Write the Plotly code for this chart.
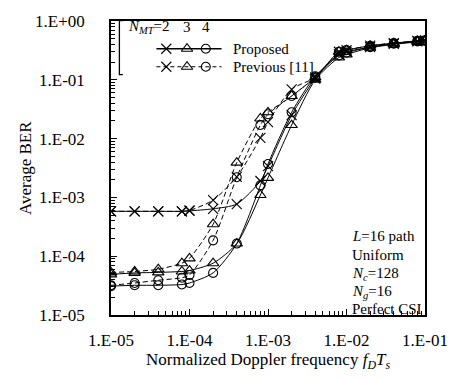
import plotly.graph_objects as go

# ---------------- data ----------------
fd = [1e-5, 2e-5, 4e-5, 8e-5, 1e-4, 2e-4, 4e-4, 8e-4, 1e-3, 2e-3, 4e-3,
      8e-3, 1e-2, 2e-2, 4e-2, 8e-2, 1e-1]

prop_n2 = [5.8e-4, 5.8e-4, 5.8e-4, 5.8e-4, 5.9e-4, 6.4e-4, 7.7e-4, 1.9e-3, 3.4e-3,
           2.5e-2, 0.105, 0.27, 0.30, 0.36, 0.41, 0.45, 0.46]
prop_n3 = [4.9e-5, 5.2e-5, 5.3e-5, 5.5e-5, 5.7e-5, 7.6e-5, 1.64e-4, 1.1e-3, 2.15e-3,
           1.7e-2, 0.10, 0.24, 0.27, 0.35, 0.40, 0.44, 0.45]
prop_n4 = [3.1e-5, 3.2e-5, 3.2e-5, 3.3e-5, 3.5e-5, 5.2e-5, 1.64e-4, 1.6e-3, 3.7e-3,
           2.8e-2, 0.115, 0.26, 0.29, 0.36, 0.41, 0.45, 0.46]
prev_n2 = [5.8e-4, 5.8e-4, 5.8e-4, 5.8e-4, 6.0e-4, 9.0e-4, 2.24e-3, 1.03e-2, 1.9e-2,
           6.9e-2, 0.11, 0.30, 0.32, 0.38, 0.42, 0.46, 0.47]
prev_n3 = [5.3e-5, 5.5e-5, 6.0e-5, 7.6e-5, 9.2e-5, 3.5e-4, 3.9e-3, 2.2e-2, 2.8e-2,
           5.3e-2, 0.11, 0.30, 0.32, 0.38, 0.42, 0.46, 0.47]
prev_n4 = [3.2e-5, 3.5e-5, 3.9e-5, 4.3e-5, 4.8e-5, 1.86e-4, 2.2e-3, 1.7e-2, 2.6e-2,
           5.3e-2, 0.11, 0.30, 0.32, 0.38, 0.42, 0.46, 0.47]

x_tick_vals = [1e-5, 1e-4, 1e-3, 1e-2, 1e-1]
x_tick_text = ["1.E-05", "1.E-04", "1.E-03", "1.E-02", "1.E-01"]
y_tick_vals = [1e-5, 1e-4, 1e-3, 1e-2, 1e-1, 1e0]
y_tick_text = ["1.E-05", "1.E-04", "1.E-03", "1.E-02", "1.E-01", "1.E+00"]

legend_labels = ["Proposed", "Previous [11]"]
nmt_values = ["2", "3", "4"]
info_lines = ["<i>L</i>=16 path", "Uniform", "<i>N<sub>c</sub></i>=128",
              "<i>N<sub>g</sub></i>=16", "Perfect CSI"]

# ---------------- layout geometry (pixels) ----------------
W, H = 460, 378
L_, R_, T_, B_ = 111, 429, 13, 315
FONT = "Times New Roman, Liberation Serif, Tinos, DejaVu Serif, serif"


def px(x):
    return (x - L_) / (R_ - L_)


def py(y):
    return (B_ - y) / (B_ - T_)


symbols = {"2": "x-thin", "3": "triangle-up-open", "4": "circle-open"}
sizes = {"2": 10, "3": 10, "4": 9}

fig = go.Figure()

series = [
    (prev_n2, "2", "dash"), (prev_n3, "3", "dash"), (prev_n4, "4", "dash"),
    (prop_n2, "2", "solid"), (prop_n3, "3", "solid"), (prop_n4, "4", "solid"),
]
for vals, n, dash in series:
    fig.add_trace(go.Scatter(
        x=fd, y=vals, mode="lines+markers",
        line=dict(color="black", width=1,
                  dash="5px,3px" if dash == "dash" else "solid",
                  shape="spline", smoothing=0.7),
        marker=dict(symbol=symbols[n], size=sizes[n], color="black",
                    line=dict(color="black", width=1.1)),
        showlegend=False, hoverinfo="skip"))

# custom legend (pixel-space overlay axes)
leg_x = [167, 188, 207]
for row, (lab, dash) in enumerate(zip(legend_labels, ["solid", "dash"])):
    yrow = 41.5 + row * 18.5
    fig.add_trace(go.Scatter(
        x=[157, 223], y=[yrow, yrow], mode="lines", xaxis="x2", yaxis="y2",
        line=dict(color="black", width=1.6 if dash == "solid" else 1,
                  dash="solid" if dash == "solid" else "4px,3px"),
        showlegend=False, hoverinfo="skip"))
    for xx, n in zip(leg_x, nmt_values):
        fig.add_trace(go.Scatter(
            x=[xx], y=[yrow], mode="markers", xaxis="x2", yaxis="y2",
            marker=dict(symbol=symbols[n], size=sizes[n], color="black",
                        line=dict(color="black", width=1.1)),
            showlegend=False, hoverinfo="skip"))

annotations = []
for row, lab in enumerate(legend_labels):
    annotations.append(dict(x=px(233), y=py(41.5 + row * 18.5), xref="paper", yref="paper",
                            text=lab, showarrow=False, xanchor="left", yanchor="middle",
                            font=dict(family=FONT, size=15, color="black")))
annotations.append(dict(x=px(126), y=py(19), xref="paper", yref="paper",
                        text="<i>N</i><sub><i>MT</i></sub>=" + nmt_values[0], showarrow=False,
                        xanchor="left", yanchor="middle",
                        font=dict(family=FONT, size=15, color="black")))
for xx, n in zip(leg_x[1:], nmt_values[1:]):
    annotations.append(dict(x=px(xx), y=py(19), xref="paper", yref="paper",
                            text=n, showarrow=False, xanchor="center", yanchor="middle",
                            font=dict(family=FONT, size=15, color="black")))

info_y = [234, 253, 272.5, 291, 308.5]
for yy, t in zip(info_y, info_lines):
    annotations.append(dict(x=px(353), y=py(yy), xref="paper", yref="paper",
                            text=t, showarrow=False, xanchor="left", yanchor="middle",
                            font=dict(family=FONT, size=15, color="black")))

annotations.append(dict(x=px(24), y=0.5, xref="paper", yref="paper", text="Average BER",
                        textangle=-90, showarrow=False, xanchor="center", yanchor="middle",
                        font=dict(family=FONT, size=17, color="black")))
annotations.append(dict(x=0.5, y=py(362), xref="paper", yref="paper",
                        text="Normalized Doppler frequency <i>f<sub>D</sub>T<sub>s</sub></i>",
                        showarrow=False, xanchor="center", yanchor="middle",
                        font=dict(family=FONT, size=17, color="black")))

minor_x = [m * 10.0 ** e for e in range(-5, -1) for m in range(2, 10)]
minor_y = [m * 10.0 ** e for e in range(-5, 0) for m in range(2, 10)]

axis_common = dict(
    type="log", showgrid=False, zeroline=False, showline=True, linecolor="black",
    linewidth=1.5, mirror=True, ticks="inside", ticklen=6, tickwidth=1.2, tickcolor="black",
    tickmode="array", tickfont=dict(family=FONT, size=17, color="black"),
)

fig.update_layout(
    width=W, height=H, margin=dict(l=L_, r=W - R_, t=T_, b=H - B_),
    paper_bgcolor="white", plot_bgcolor="white", showlegend=False,
    font=dict(family=FONT, color="black"),
    xaxis=dict(range=[-5, -1], tickvals=x_tick_vals, ticktext=x_tick_text,
               ticklabelstandoff=9,
               minor=dict(tickmode="array", tickvals=minor_x, ticks="inside", ticklen=4,
                          tickwidth=1, tickcolor="black", showgrid=False),
               **axis_common),
    yaxis=dict(range=[-5, 0], tickvals=y_tick_vals, ticktext=y_tick_text,
               ticklabelstandoff=21,
               minor=dict(tickmode="array", tickvals=minor_y, ticks="inside", ticklen=4,
                          tickwidth=1, tickcolor="black", showgrid=False),
               **axis_common),
    xaxis2=dict(overlaying="x", range=[L_, R_], visible=False, anchor="y2"),
    yaxis2=dict(overlaying="y", range=[B_, T_], visible=False, anchor="x2"),
    annotations=annotations,
    shapes=[dict(type="path", xref="paper", yref="paper",
                 path=f"M {px(123)} {py(12.5)} L {px(119.5)} {py(12.5)} L {px(119.5)} {py(68)} L {px(123)} {py(68)}",
                 line=dict(color="black", width=1.3))],
)

fig.write_html("out.html")
